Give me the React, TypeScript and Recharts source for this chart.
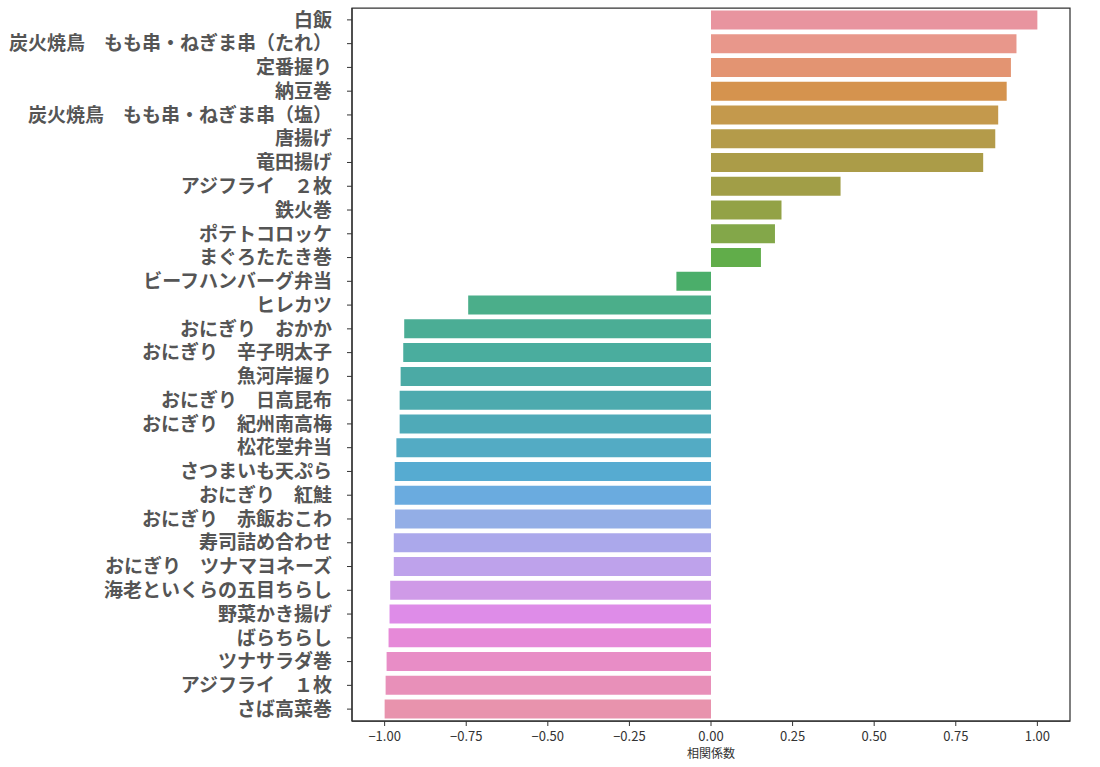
import React from "react";
import { BarChart, Bar, XAxis, YAxis, Cell, Label, ReferenceArea } from "recharts";

const categories: string[] = [
  "白飯",
  "炭火焼鳥　もも串・ねぎま串（たれ）",
  "定番握り",
  "納豆巻",
  "炭火焼鳥　もも串・ねぎま串（塩）",
  "唐揚げ",
  "竜田揚げ",
  "アジフライ　２枚",
  "鉄火巻",
  "ポテトコロッケ",
  "まぐろたたき巻",
  "ビーフハンバーグ弁当",
  "ヒレカツ",
  "おにぎり　おかか",
  "おにぎり　辛子明太子",
  "魚河岸握り",
  "おにぎり　日高昆布",
  "おにぎり　紀州南高梅",
  "松花堂弁当",
  "さつまいも天ぷら",
  "おにぎり　紅鮭",
  "おにぎり　赤飯おこわ",
  "寿司詰め合わせ",
  "おにぎり　ツナマヨネーズ",
  "海老といくらの五目ちらし",
  "野菜かき揚げ",
  "ばらちらし",
  "ツナサラダ巻",
  "アジフライ　１枚",
  "さば高菜巻",
];

const correlations: number[] = [
  1.0, 0.936, 0.919, 0.906, 0.88, 0.871, 0.834, 0.397, 0.216, 0.196, 0.153,
  -0.106, -0.744, -0.94, -0.943, -0.951, -0.954, -0.954, -0.964, -0.969,
  -0.969, -0.968, -0.972, -0.972, -0.983, -0.985, -0.988, -0.994, -0.997, -1.0,
];

const xTicks: number[] = [-1, -0.75, -0.5, -0.25, 0, 0.25, 0.5, 0.75, 1];
const xDomain: number[] = [-1.1, 1.1];

const barColors: string[] = [
  "#E8949F", "#E8978B", "#E39472", "#D5934E", "#C4994C", "#B49B4A",
  "#AB9C48", "#A19E47", "#93A246", "#83A749", "#61AD4A", "#4BAE6A",
  "#4BAE8A", "#4BAD95", "#4AAD9E", "#4BAAA5", "#4DAAAE", "#4FAAB8",
  "#53ABC4", "#56ABD1", "#6AABDF", "#93AEE6", "#ABA8EB", "#BEA2EB",
  "#CF9AE7", "#DE8CE8", "#E689D8", "#E88DC6", "#E890B9", "#E893AD",
];

const data = categories.map((name, i) => ({ name, value: correlations[i] }));

const fmt = (v: number) => {
  const s = Math.abs(v).toFixed(2);
  return v < 0 ? "\u2212" + s : s;
};

const FONT = "'Noto Sans CJK JP', 'Noto Sans', sans-serif";

export default function App() {
  return (
    <div style={{ position: "absolute", left: 0, top: 0, width: 1100, height: 767, background: "#fff" }}>
      <BarChart
        width={1100}
        height={767}
        data={data}
        layout="vertical"
        margin={{ top: 8, right: 30, bottom: 6, left: 0 }}
        barCategoryGap="10%"
        style={{ fontFamily: FONT }}
      >
        <XAxis
          type="number"
          domain={xDomain}
          ticks={xTicks}
          tickFormatter={fmt}
          height={40}
          tickSize={5}
          tickMargin={6}
          axisLine={{ stroke: "#333", strokeWidth: 1.25 }}
          tickLine={{ stroke: "#333" }}
          tick={{ fontSize: 13, fill: "#333", fontFamily: FONT }}
        >
          <Label
            value="相関係数"
            position="insideBottom"
            offset={3}
            style={{ fontSize: 12, fill: "#333", fontFamily: FONT }}
          />
        </XAxis>
        <YAxis
          type="category"
          dataKey="name"
          width={352}
          interval={0}
          tickSize={5}
          tickMargin={15}
          axisLine={{ stroke: "#333", strokeWidth: 1.25 }}
          tickLine={{ stroke: "#333" }}
          tick={{ fontSize: 19, fontWeight: "bold", fill: "#555", fontFamily: FONT }}
        />
        <Bar dataKey="value" isAnimationActive={false}>
          {data.map((d, i) => (
            <Cell key={d.name} fill={barColors[i]} />
          ))}
        </Bar>
        <ReferenceArea
          x1={xDomain[0]}
          x2={xDomain[1]}
          fill="none"
          fillOpacity={0}
          stroke="#333"
          strokeWidth={1.25}
          ifOverflow="visible"
        />
      </BarChart>
    </div>
  );
}
